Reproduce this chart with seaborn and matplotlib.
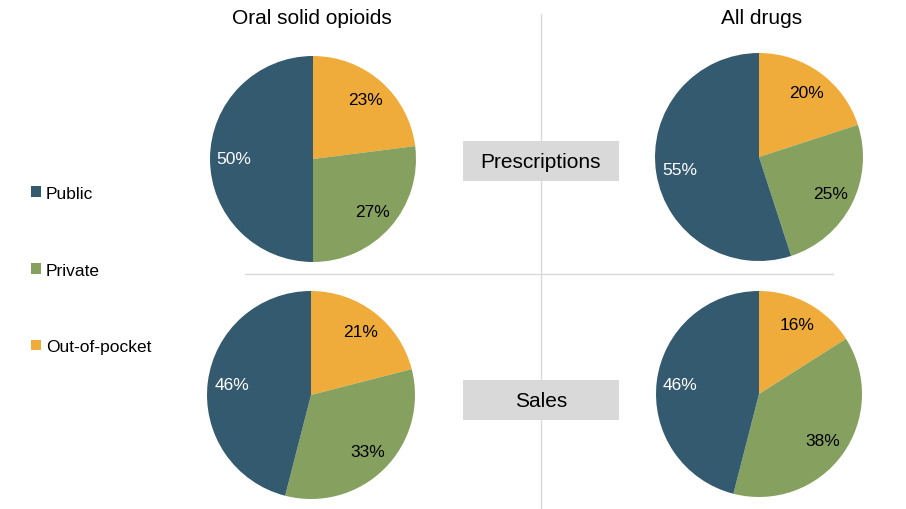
import matplotlib
matplotlib.use("Agg")
import matplotlib.pyplot as plt
from matplotlib.patches import Patch, Rectangle
from matplotlib.lines import Line2D
import seaborn as sns

sns.set_theme(style="white")
plt.rcParams['font.family'] = ['Liberation Sans', 'DejaVu Sans']
plt.rcParams['text.color'] = 'black'

# data (order drawn clockwise from 12 o'clock)
segments = ['Out-of-pocket', 'Private', 'Public']
opioid_rx = [23, 27, 50]
opioid_sales = [21, 33, 46]
all_rx = [20, 25, 55]
all_sales = [16, 38, 46]
col_titles = ['Oral solid opioids', 'All drugs']
row_titles = ['Prescriptions', 'Sales']
legend_order = ['Public', 'Private', 'Out-of-pocket']

colors = {'Public': '#345a70', 'Private': '#86a05f', 'Out-of-pocket': '#f0ac3a'}
W, H = 906, 510

fig = plt.figure(figsize=(W / 100, H / 100), dpi=100)


def pie_at(values, cx, cy, r):
    ax = fig.add_axes([(cx - r) / W, (H - cy - r) / H, 2 * r / W, 2 * r / H])
    wedges, texts, autotexts = ax.pie(
        values, colors=[colors[s] for s in segments], startangle=90,
        counterclock=False, autopct='%d%%', pctdistance=0.77,
        textprops={'fontsize': 12.5, 'color': 'black'},
        wedgeprops={'linewidth': 0})
    for w in wedges:
        w.set_clip_on(False)
    autotexts[segments.index('Public')].set_color('white')
    ax.set_xlim(-1, 1)
    ax.set_ylim(-1, 1)
    ax.set_aspect('equal')
    ax.axis('off')
    return ax


pie_at(opioid_rx, 313, 160, 103)
pie_at(all_rx, 759, 158, 104)
pie_at(opioid_sales, 311, 396, 104)
pie_at(all_sales, 759, 395, 103)

# column titles
fig.text(312 / W, 1 - 18 / H, col_titles[0], ha='center', va='center', fontsize=15)
fig.text(762 / W, 1 - 18 / H, col_titles[1], ha='center', va='center', fontsize=15)

# divider lines
fig.add_artist(Line2D([541 / W, 541 / W], [0, 1 - 15 / H], transform=fig.transFigure,
                      color='#d9d9d9', lw=1))
fig.add_artist(Line2D([245 / W, 833 / W], [1 - 275 / H, 1 - 275 / H],
                      transform=fig.transFigure, color='#d9d9d9', lw=1))

# row labels in gray boxes
for label, cy, ty in zip(row_titles, [162, 401], [163, 402]):
    fig.add_artist(Rectangle((463 / W, 1 - (cy + 20) / H), 156 / W, 40 / H,
                             transform=fig.transFigure, facecolor='#d9d9d9',
                             edgecolor='none', zorder=2))
    fig.text(541 / W, 1 - ty / H, label, ha='center', va='center', fontsize=15, zorder=3)

# legend
handles = [Patch(facecolor=colors[s], edgecolor='none', label=s) for s in legend_order]
fig.legend(handles=handles, loc='center left', bbox_to_anchor=(31 / W, 1 - 271 / H),
           frameon=False, fontsize=12.5, labelspacing=3.55, handlelength=0.55,
           handleheight=0.55, handletextpad=0.3, borderpad=0, borderaxespad=0)

fig.savefig('out.png', dpi=100)
